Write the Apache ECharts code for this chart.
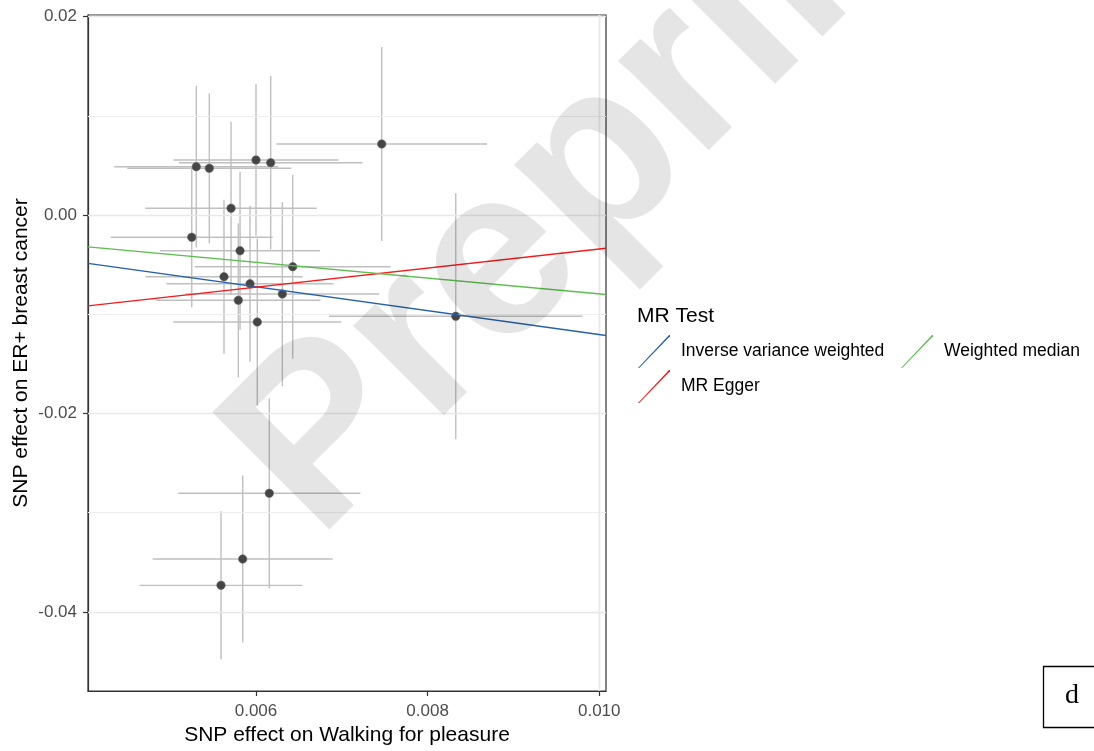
<!DOCTYPE html>
<html>
<head>
<meta charset="utf-8">
<script src="https://cdn.jsdelivr.net/npm/echarts@6/dist/echarts.min.js"></script>
<style>
  html, body { margin: 0; padding: 0; background: #fff; }
  #chart { width: 1094px; height: 751px; }
</style>
</head>
<body>
<div id="chart"></div>
<script>
// SNP effects (exposure: walking for pleasure, outcome: ER+ breast cancer)
const snpX = [0.007465, 0.005304, 0.005456, 0.006000, 0.006171, 0.005709, 0.005251, 0.005814, 0.006428,
  0.005627, 0.005930, 0.005794, 0.006307, 0.006015, 0.008328, 0.006155, 0.005845, 0.005592]
const snpY = [0.007157, 0.004869, 0.004708, 0.005544, 0.005272, 0.000675, -0.002248, -0.003599, -0.005212,
  -0.006220, -0.006925, -0.008599, -0.007964, -0.010786, -0.010212, -0.028054, -0.034677, -0.037329]
const snpXse = [0.001227, 0.000956, 0.000956, 0.000962, 0.001069, 0.000999, 0.000944, 0.000932, 0.001142,
  0.000917, 0.000974, 0.000956, 0.001130, 0.000979, 0.001477, 0.001061, 0.001049, 0.000948]
const snpYse = [0.00978, 0.008135, 0.00756, 0.00763, 0.00874, 0.00873, 0.00706, 0.00796, 0.009274,
  0.00776, 0.007863, 0.00776, 0.009274, 0.008417, 0.0124, 0.009577, 0.008417, 0.00746]

// MR estimates (lines)
const mrMethods = ['Inverse variance weighted', 'MR Egger', 'Weighted median']
const mrIntercept = [0, -0.01305, 0]
const mrSlope = [-1.205, 0.962, -0.795]
const mrColors = ['#2461a8', '#f21c1c', '#5cbd4f']

// axis ticks
const xTicks = [0.006, 0.008, 0.010]
const xMinor = [0.005, 0.007, 0.009]
const yTicks = [0.02, 0.00, -0.02, -0.04]
const yMinor = [0.01, -0.01, -0.03]
const xRange = [0.004042, 0.010079]
const yRange = [-0.04798, 0.02016]

const chart = echarts.init(document.getElementById('chart'))

const font = '"Liberation Sans", Arial, sans-serif'

// 点 + 误差线 数据
const pointData = snpX.map((v, i) => [v, snpY[i]])
const barData = snpX.map((v, i) => [v, snpY[i], snpXse[i], snpYse[i]])

const minorStyle = { type: 'solid', color: '#ededed', width: 1 }
const majorStyle = { type: 'solid', color: '#e8e8e8', width: 1.3 }
const gridMarks = []
xMinor.forEach(v => gridMarks.push({ xAxis: v, lineStyle: minorStyle }))
yMinor.forEach(v => gridMarks.push({ yAxis: v, lineStyle: minorStyle }))
xTicks.forEach(v => gridMarks.push({ xAxis: v, lineStyle: majorStyle }))
yTicks.forEach(v => gridMarks.push({ yAxis: v, lineStyle: majorStyle }))

const lineSeries = mrMethods.map((name, i) => ({
  name: name,
  type: 'line',
  symbol: 'none',
  silent: true,
  z: 5,
  color: mrColors[i],
  lineStyle: { width: 1.4, color: mrColors[i] },
  data: xRange.map(x => [x, mrIntercept[i] + mrSlope[i] * x])
}))

// 图例 (两列, 按列排)
const legendBase = {
  orient: 'vertical',
  top: 335,
  padding: 0,
  itemGap: 2,
  itemWidth: 32,
  itemHeight: 33,
  icon: 'path://M0,33 L31,0 L32,0 L32,1.2 L1.2,33 L0,33 Z',
  itemStyle: { borderWidth: 0 },
  textStyle: { fontFamily: font, fontSize: 17.5, color: '#000', padding: [7, 0, 0, 6] }
}

const options = {
  animation: false,
  title: {
    text: 'MR Test',
    left: 637,
    top: 306,
    padding: 0,
    textStyle: { fontFamily: font, fontSize: 21, fontWeight: 'normal', color: '#000' }
  },
  legend: [
    Object.assign({}, legendBase, { left: 638, data: ['Inverse variance weighted', 'MR Egger'] }),
    Object.assign({}, legendBase, { left: 901, data: ['Weighted median'] })
  ],
  grid: {
    left: 88,
    right: 488,
    top: 15,
    bottom: 60,
    show: true,
    borderColor: '#333',
    borderWidth: 1.2,
    backgroundColor: 'transparent'
  },
  xAxis: {
    type: 'value',
    min: xRange[0],
    max: xRange[1],
    name: 'SNP effect on Walking for pleasure',
    nameLocation: 'middle',
    nameGap: 34,
    nameTextStyle: { fontFamily: font, fontSize: 21, color: '#000' },
    axisLine: { show: true, onZero: false, lineStyle: { color: '#333', width: 1.2 } },
    axisTick: { show: true, length: 5, customValues: xTicks, lineStyle: { color: '#333', width: 1.2 } },
    axisLabel: {
      customValues: xTicks,
      margin: 12,
      fontFamily: font,
      fontSize: 17,
      color: '#4d4d4d',
      formatter: v => v.toFixed(3)
    },
    splitLine: { show: false }
  },
  yAxis: {
    type: 'value',
    min: yRange[0],
    max: yRange[1],
    name: 'SNP effect on ER+ breast cancer',
    nameLocation: 'middle',
    nameGap: 56,
    nameTextStyle: { fontFamily: font, fontSize: 21, color: '#000' },
    axisLine: { show: true, onZero: false, lineStyle: { color: '#333', width: 1.2 } },
    axisTick: { show: true, length: 5, customValues: yTicks, lineStyle: { color: '#333', width: 1.2 } },
    axisLabel: {
      customValues: yTicks,
      margin: 11,
      fontFamily: font,
      fontSize: 17,
      color: '#4d4d4d',
      formatter: v => v.toFixed(2)
    },
    splitLine: { show: false }
  },
  series: [
    {
      name: 'grid',
      type: 'line',
      data: [],
      z: 0,
      silent: true,
      markLine: {
        silent: true,
        symbol: ['none', 'none'],
        label: { show: false },
        animation: false,
        data: gridMarks
      }
    },
    {
      name: 'errorbars',
      type: 'custom',
      z: 2,
      silent: true,
      data: barData,
      renderItem: (params, api) => {
        const x = api.value(0)
        const y = api.value(1)
        const xe = api.value(2)
        const ye = api.value(3)
        const h0 = api.coord([x - xe, y])
        const h1 = api.coord([x + xe, y])
        const v0 = api.coord([x, y - ye])
        const v1 = api.coord([x, y + ye])
        const style = { stroke: '#bfbfbf', lineWidth: 1.4 }
        return {
          type: 'group',
          children: [
            { type: 'line', shape: { x1: h0[0], y1: h0[1], x2: h1[0], y2: h1[1] }, style: style },
            { type: 'line', shape: { x1: v0[0], y1: v0[1], x2: v1[0], y2: v1[1] }, style: style }
          ]
        }
      }
    },
    {
      name: 'snps',
      type: 'scatter',
      z: 3,
      silent: true,
      symbolSize: 8.5,
      itemStyle: { color: '#454545', borderColor: '#6a6a6a', borderWidth: 0.6, opacity: 1 },
      data: pointData
    }
  ].concat(lineSeries),
  graphic: [
    {
      type: 'text',
      x: 271,
      y: 494,
      rotation: 45 * Math.PI / 180,
      silent: true,
      z: 100,
      style: {
        text: 'Preprint',
        font: 'bold 241px "Liberation Sans", Arial, sans-serif',
        fill: 'rgba(0,0,0,0.1)',
        align: 'left',
        verticalAlign: 'middle'
      }
    },
    {
      type: 'rect',
      shape: { x: 1043.5, y: 666.5, width: 60, height: 61 },
      style: { fill: '#fff', stroke: '#000', lineWidth: 1.3 },
      z: 100
    },
    {
      type: 'text',
      x: 1072,
      y: 696,
      z: 101,
      style: {
        text: 'd',
        font: '28px "Liberation Serif", "Times New Roman", serif',
        fill: '#000',
        align: 'center',
        verticalAlign: 'middle'
      }
    }
  ]
}

chart.setOption(options)
</script>
</body>
</html>
